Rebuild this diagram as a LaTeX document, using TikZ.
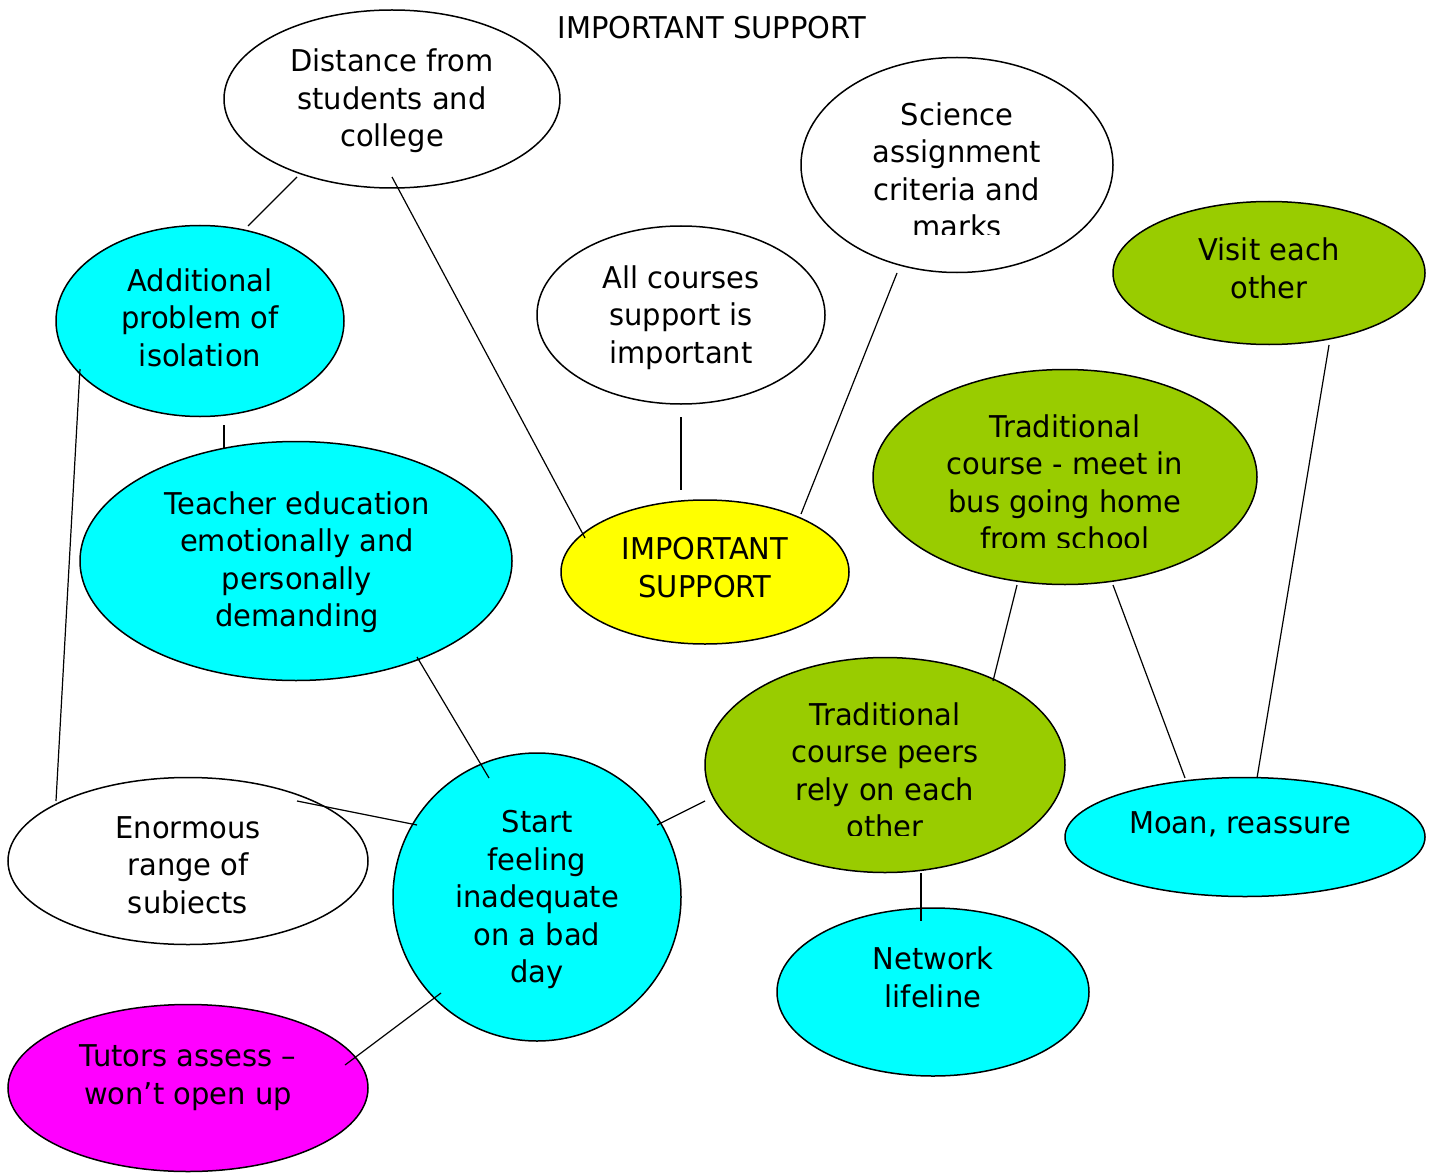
\documentclass[tikz,border=0pt]{standalone}
\usepackage{fontspec}
\setmainfont{DejaVu Sans}[FakeStretch=0.965]
\usetikzlibrary{shapes.geometric}
\definecolor{cyanfill}{HTML}{00FFFF}
\definecolor{greenfill}{HTML}{99CC00}
\definecolor{yellowfill}{HTML}{FFFF00}
\definecolor{magentafill}{HTML}{FF00FF}
\newcommand{\ls}{\rule[-7.25pt]{0pt}{37.5pt}}
\tikzset{
  bub/.style={ellipse, draw=black, line width=1.5pt, inner sep=0pt, outer sep=0pt},
  txt/.style={align=center, inner sep=0pt, outer sep=0pt, text=black, font=\fontsize{30pt}{37.5pt}\selectfont},
  link/.style={line width=1.2pt, draw=black},
}
\begin{document}
\begin{tikzpicture}[x=1pt,y=-1pt]
\useasboundingbox (0,0) rectangle (1439,1174);
% ellipses
\node[bub, fill=white, minimum width=336pt, minimum height=178pt] (dist) at (392,99) {};
\node[bub, fill=white, minimum width=312pt, minimum height=215pt] (sci) at (957,165) {};
\node[bub, fill=greenfill, minimum width=312pt, minimum height=143pt] (visit) at (1269,273) {};
\node[bub, fill=cyanfill, minimum width=288pt, minimum height=191pt] (iso) at (200,321) {};
\node[bub, fill=white, minimum width=288pt, minimum height=178pt] (all) at (681,315) {};
\node[bub, fill=greenfill, minimum width=384pt, minimum height=215pt] (bus) at (1065,477) {};
\node[bub, fill=cyanfill, minimum width=432pt, minimum height=239pt] (teach) at (296,561) {};
\node[bub, fill=yellowfill, minimum width=288pt, minimum height=144pt] (imp) at (705,572) {};
\node[bub, fill=greenfill, minimum width=360pt, minimum height=215pt] (peers) at (885,765) {};
\node[bub, fill=white, minimum width=360pt, minimum height=167pt] (enorm) at (188,861) {};
\node[bub, fill=cyanfill, minimum width=288pt, minimum height=288pt] (start) at (537,897) {};
\node[bub, fill=cyanfill, minimum width=360pt, minimum height=119pt] (moan) at (1245,837) {};
\node[bub, fill=cyanfill, minimum width=312pt, minimum height=168pt] (net) at (933,992) {};
\node[bub, fill=magentafill, minimum width=360pt, minimum height=167pt] (tut) at (188,1088) {};
% texts
\node[txt] (title) at (712,27) {\ls IMPORTANT SUPPORT};
\node[txt] (tdist) at (392,98) {\ls Distance from\\\ls students and\\\ls college};
\begin{scope}
\clip (801,58) rectangle (1113,234.5);
\node[txt] (tsci) at (957,170) {\ls Science\\\ls assignment\\\ls criteria and\\\ls marks};
\end{scope}
\node[txt] (tvisit) at (1269,268) {\ls Visit each\\\ls other};
\node[txt] (tiso) at (200,317) {\ls Additional\\\ls problem of\\\ls isolation};
\node[txt] (tall) at (681,314) {\ls All courses\\\ls support is\\\ls important};
\begin{scope}
\clip (873,370) rectangle (1257,547);
\node[txt] (tbus) at (1065,482) {\ls Traditional\\\ls course - meet in\\\ls bus going home\\\ls from school};
\end{scope}
\node[txt] (tteach) at (297,559) {\ls Teacher education\\\ls emotionally and\\\ls personally\\\ls demanding};
\node[txt] (timp) at (705,567) {\ls IMPORTANT\\\ls SUPPORT};
\begin{scope}
\clip (705,658) rectangle (1065,835);
\node[txt] (tpeers) at (885,770) {\ls Traditional\\\ls course peers\\\ls rely on each\\\ls other};
\end{scope}
\begin{scope}
\clip (8,778) rectangle (369,913.5);
\node[txt] (tenorm) at (188,864) {\ls Enormous\\\ls range of\\\ls subjects};
\end{scope}
\node[txt] (tstart) at (537,896) {\ls Start\\\ls feeling\\\ls inadequate\\\ls on a bad\\\ls day};
\node[txt] (tmoan) at (1240,822) {\ls Moan, reassure};
\node[txt] (tnet) at (933,977) {\ls Network\\\ls lifeline};
\node[txt] (ttut) at (188,1074) {\ls Tutors assess –\\\ls won’t open up};
% connector end points
\coordinate (distA) at (297,177); \coordinate (isoA) at (248,226);
\coordinate (distB) at (392,177); \coordinate (impA) at (585,538);
\coordinate (allA) at (681,417);  \coordinate (impB) at (681,490);
\coordinate (sciA) at (897,273);  \coordinate (impC) at (801,514);
\coordinate (visitA) at (1329,345); \coordinate (moanA) at (1257,778);
\coordinate (isoB) at (224,425);  \coordinate (teachA) at (224,449);
\coordinate (isoC) at (80,369);   \coordinate (enormA) at (56,801);
\coordinate (teachB) at (417,657); \coordinate (startA) at (489,778);
\coordinate (enormB) at (297,801); \coordinate (startB) at (417,825);
\coordinate (peersA) at (705,801); \coordinate (startC) at (657,825);
\coordinate (busA) at (1017,585); \coordinate (peersB) at (993,681);
\coordinate (busB) at (1113,585); \coordinate (moanB) at (1185,778);
\coordinate (peersC) at (921,873); \coordinate (netA) at (921,921);
\coordinate (startD) at (441,993); \coordinate (tutA) at (345,1065);
% connectors
\draw[link] (distA) -- (isoA);
\draw[link] (distB) -- (impA);
\draw[link] (allA) -- (impB);
\draw[link] (sciA) -- (impC);
\draw[link] (visitA) -- (moanA);
\draw[link] (isoB) -- (teachA);
\draw[link] (isoC) -- (enormA);
\draw[link] (teachB) -- (startA);
\draw[link] (enormB) -- (startB);
\draw[link] (peersA) -- (startC);
\draw[link] (busA) -- (peersB);
\draw[link] (busB) -- (moanB);
\draw[link] (peersC) -- (netA);
\draw[link] (startD) -- (tutA);
\end{tikzpicture}
\end{document}
